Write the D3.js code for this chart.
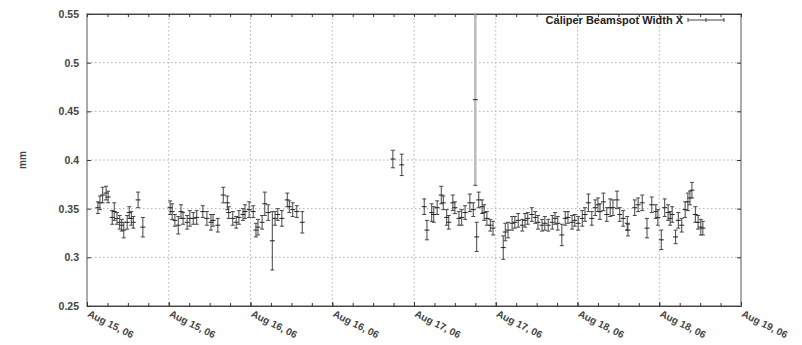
<!DOCTYPE html>
<html>
<head>
<meta charset="utf-8">
<script src="https://cdn.jsdelivr.net/npm/d3@7/dist/d3.min.js"></script>
<style>
  body { margin: 0; background: #fff; }
  svg { display: block; font-family: "Liberation Sans", Arial, sans-serif; }
</style>
</head>
<body>
<svg id="chart" width="802" height="345"></svg>
<script>
// hours after Aug 15, 06 00:00
const hours = [
  1.6, 1.9, 2.3, 2.8, 3.1, 3.7, 4.0, 4.4, 4.8, 5.1, 5.4, 5.9, 6.2, 6.5, 6.8, 7.5, 8.2,
  12.2, 12.5, 12.9, 13.4, 13.8, 14.1, 14.7, 15.1, 15.6, 16.1, 17.0, 17.6, 18.2, 18.5, 19.2,
  20.0, 20.6, 20.8, 21.4, 21.9, 22.3, 22.9, 23.2, 23.8, 24.4, 24.8, 25.1, 25.7, 26.1, 26.6,
  27.2, 27.6, 28.0, 28.6, 29.4, 29.7, 30.2, 30.8, 31.6,
  44.9, 46.2,
  49.5, 49.9, 50.6, 50.9, 51.4, 52.0, 52.3, 52.8, 53.1, 53.7, 54.0, 54.6, 55.0, 55.5, 56.2,
  56.7, 57.0, 57.2, 57.5, 58.0, 58.3, 58.7, 59.2, 59.6,
  61.1, 61.4, 61.8, 62.4, 62.8, 63.3, 63.9, 64.3, 64.7, 65.3, 65.8, 66.2, 66.8, 67.2, 67.7,
  68.3, 68.7, 69.1, 69.7, 70.2, 70.6, 71.2, 71.6, 72.1, 72.7, 73.1, 73.6, 74.1, 74.6, 75.0,
  75.3, 75.8, 76.3, 76.8, 77.2, 77.8, 78.2, 78.7, 79.3, 79.4, 80.4, 80.9, 81.5, 82.2, 82.9,
  83.5, 83.8, 84.3, 84.8, 85.3, 85.6, 85.9, 86.4, 86.8, 87.3, 87.8, 88.2, 88.5, 88.8, 89.3,
  89.7, 90.1, 90.4
];
const widthX = [
  0.351, 0.356, 0.364, 0.366, 0.362, 0.341, 0.347, 0.340, 0.336, 0.333, 0.328, 0.336, 0.346, 0.340, 0.336, 0.359, 0.331,
  0.351, 0.347, 0.338, 0.333, 0.347, 0.340, 0.336, 0.340, 0.340, 0.341, 0.347, 0.340, 0.336, 0.338, 0.333,
  0.364, 0.356, 0.346, 0.340, 0.336, 0.341, 0.344, 0.347, 0.349, 0.347, 0.328, 0.331, 0.336, 0.355, 0.346,
  0.317, 0.340, 0.344, 0.340, 0.359, 0.352, 0.349, 0.347, 0.336,
  0.401, 0.395,
  0.352, 0.328, 0.346, 0.344, 0.351, 0.364, 0.356, 0.341, 0.336, 0.356, 0.351, 0.340, 0.341, 0.346, 0.356,
  0.349, 0.462, 0.321, 0.359, 0.352, 0.346, 0.340, 0.333, 0.330,
  0.310, 0.326, 0.328, 0.335, 0.336, 0.338, 0.333, 0.338, 0.340, 0.344, 0.341, 0.336, 0.333, 0.335, 0.333,
  0.336, 0.340, 0.335, 0.323, 0.340, 0.341, 0.336, 0.338, 0.335, 0.340, 0.344, 0.356, 0.340, 0.351, 0.354,
  0.347, 0.357, 0.344, 0.351, 0.351, 0.359, 0.344, 0.340, 0.335, 0.328, 0.351, 0.354, 0.356, 0.330, 0.354,
  0.347, 0.341, 0.318, 0.351, 0.346, 0.340, 0.344, 0.321, 0.338, 0.333, 0.349, 0.357, 0.361, 0.369, 0.344,
  0.336, 0.331, 0.330
];
const widthErr = [
  0.006, 0.007, 0.008, 0.007, 0.006, 0.007, 0.009, 0.006, 0.007, 0.006, 0.008, 0.007, 0.006, 0.007, 0.006, 0.008, 0.010,
  0.007, 0.008, 0.006, 0.009, 0.007, 0.006, 0.007, 0.008, 0.006, 0.007, 0.006, 0.007, 0.008, 0.006, 0.007,
  0.008, 0.007, 0.006, 0.007, 0.006, 0.007, 0.006, 0.007, 0.008, 0.006, 0.007, 0.008, 0.007, 0.012, 0.008,
  0.030, 0.007, 0.006, 0.008, 0.007, 0.006, 0.007, 0.006, 0.011,
  0.009, 0.011,
  0.008, 0.010, 0.009, 0.008, 0.007, 0.009, 0.007, 0.008, 0.007, 0.008, 0.006, 0.007, 0.008, 0.007, 0.009,
  0.007, 0.088, 0.015, 0.008, 0.007, 0.008, 0.007, 0.006, 0.007,
  0.012, 0.009, 0.008, 0.007, 0.006, 0.007, 0.006, 0.007, 0.006, 0.007, 0.006, 0.007, 0.006, 0.007, 0.006,
  0.007, 0.006, 0.007, 0.011, 0.007, 0.006, 0.007, 0.006, 0.007, 0.008, 0.007, 0.009, 0.007, 0.008, 0.007,
  0.008, 0.009, 0.007, 0.009, 0.008, 0.009, 0.007, 0.008, 0.007, 0.006, 0.008, 0.007, 0.008, 0.010, 0.008,
  0.007, 0.008, 0.010, 0.009, 0.008, 0.007, 0.008, 0.007, 0.008, 0.007, 0.008, 0.009, 0.007, 0.008, 0.008,
  0.007, 0.008, 0.007
];
const yTicks = [0.25, 0.3, 0.35, 0.4, 0.45, 0.5, 0.55];
const seriesName = "Caliper Beamspot Width X";
const yLabel = "mm";

const start = new Date(2006, 7, 15);
const end = new Date(2006, 7, 19);
const points = hours.map((h, i) => ({
  t: d3.timeMinute.offset(start, Math.round(h * 60)),
  v: widthX[i],
  e: widthErr[i]
}));

const margin = {top: 14, right: 61, bottom: 39, left: 87};
const svg = d3.select("#chart");
const W = +svg.attr("width") - margin.left - margin.right;
const H = +svg.attr("height") - margin.top - margin.bottom;

const x = d3.scaleTime().domain([start, end]).range([0, W]);
const y = d3.scaleLinear().domain([0.25, 0.55]).range([H, 0]);

const g = svg.append("g").attr("transform", `translate(${margin.left},${margin.top})`);

svg.append("defs").append("clipPath").attr("id", "plot")
  .append("rect").attr("width", W).attr("height", H);

// grid
const majors = x.ticks(d3.timeHour.every(12));
g.append("g").selectAll("line").data(majors.slice(1, -1)).join("line")
  .attr("x1", d => x(d)).attr("x2", d => x(d))
  .attr("y1", 0).attr("y2", H)
  .attr("stroke", "#b0b0b0").attr("stroke-dasharray", "1.5,2.5");
g.append("g").selectAll("line").data(yTicks.slice(1, -1)).join("line")
  .attr("x1", 0).attr("x2", W)
  .attr("y1", d => y(d)).attr("y2", d => y(d))
  .attr("stroke", "#b0b0b0").attr("stroke-dasharray", "1.5,2.5");

// frame
g.append("rect").attr("width", W).attr("height", H)
  .attr("fill", "none").attr("stroke", "#aaa").attr("stroke-width", 2);

// axes (ticks inward)
const fmt = d3.timeFormat("%b %d, %y");
const xBottom = d3.axisBottom(x).ticks(d3.timeHour.every(12)).tickFormat(fmt).tickSizeInner(-4).tickSizeOuter(0);
const xb = g.append("g").attr("transform", `translate(0,${H})`).call(xBottom);
xb.select(".domain").attr("stroke", "#444");
xb.selectAll(".tick line").attr("stroke", "#333");
xb.selectAll("text")
  .attr("text-anchor", "start")
  .attr("x", 4).attr("y", 2).attr("dy", "0.71em")
  .attr("font-size", 10)
  .attr("font-weight", "bold")
  .attr("fill", "#444")
  .attr("transform", "rotate(27)");

g.append("g").attr("transform", `translate(0,${H})`)
  .call(d3.axisBottom(x).ticks(d3.timeHour.every(3)).tickFormat("").tickSizeInner(-3).tickSizeOuter(0))
  .call(a => a.select(".domain").remove())
  .selectAll("line").attr("stroke", "#333");
g.append("g")
  .call(d3.axisTop(x).ticks(d3.timeHour.every(3)).tickFormat("").tickSizeInner(-3).tickSizeOuter(0))
  .call(a => a.select(".domain").attr("stroke", "#444"))
  .selectAll("line").attr("stroke", "#333");

const yl = g.append("g")
  .call(d3.axisLeft(y).tickValues(yTicks).tickFormat(d3.format("")).tickSizeInner(-4).tickSizeOuter(0).tickPadding(8));
yl.select(".domain").remove();
yl.selectAll(".tick line").attr("stroke", "#333");
yl.selectAll("text").attr("font-size", 10.5).attr("font-weight", "bold").attr("fill", "#444");

g.append("g").attr("transform", `translate(${W},0)`)
  .call(d3.axisRight(y).tickValues(yTicks).tickFormat("").tickSizeInner(-4).tickSizeOuter(0))
  .call(a => a.select(".domain").remove())
  .selectAll("line").attr("stroke", "#333");

svg.selectAll(".tick text").attr("font-family", "Liberation Sans, Arial, sans-serif");

// y label
svg.append("text")
  .attr("transform", `translate(26,${margin.top + H / 2}) rotate(-90)`)
  .attr("text-anchor", "middle")
  .attr("font-size", 10)
  .attr("font-weight", "bold")
  .attr("fill", "#444")
  .text(yLabel);

// error bars
const bars = g.append("g").attr("clip-path", "url(#plot)")
  .selectAll("g").data(points).join("g")
  .attr("stroke", "#444").attr("stroke-width", 1);
bars.append("line")
  .attr("x1", d => x(d.t)).attr("x2", d => x(d.t))
  .attr("y1", d => y(d.v + d.e)).attr("y2", d => y(d.v - d.e))
  .attr("stroke", d => d.e > 0.05 ? "#bbb" : "#444")
  .attr("stroke-width", d => d.e > 0.05 ? 2.5 : 1);
bars.append("line")
  .attr("x1", d => x(d.t) - 2).attr("x2", d => x(d.t) + 2)
  .attr("y1", d => y(d.v + d.e)).attr("y2", d => y(d.v + d.e));
bars.append("line")
  .attr("x1", d => x(d.t) - 2).attr("x2", d => x(d.t) + 2)
  .attr("y1", d => y(d.v - d.e)).attr("y2", d => y(d.v - d.e));
bars.append("line")
  .attr("x1", d => x(d.t) - 2.5).attr("x2", d => x(d.t) + 2.5)
  .attr("y1", d => y(d.v)).attr("y2", d => y(d.v))
  .attr("stroke", "#222");

// legend
const lg = svg.append("g").attr("transform", `translate(${margin.left + W - 53},${margin.top + 6})`);
lg.append("text")
  .attr("x", -5).attr("y", 0).attr("dy", "0.35em")
  .attr("text-anchor", "end")
  .attr("font-size", 11).attr("font-weight", "bold").attr("fill", "#222")
  .text(seriesName);
lg.append("line").attr("x1", 0).attr("x2", 36).attr("y1", 0).attr("y2", 0).attr("stroke", "#444");
lg.selectAll("line.tk").data([0, 18, 36]).join("line").attr("class", "tk")
  .attr("x1", d => d).attr("x2", d => d).attr("y1", -2).attr("y2", 2).attr("stroke", "#444");
</script>
</body>
</html>
